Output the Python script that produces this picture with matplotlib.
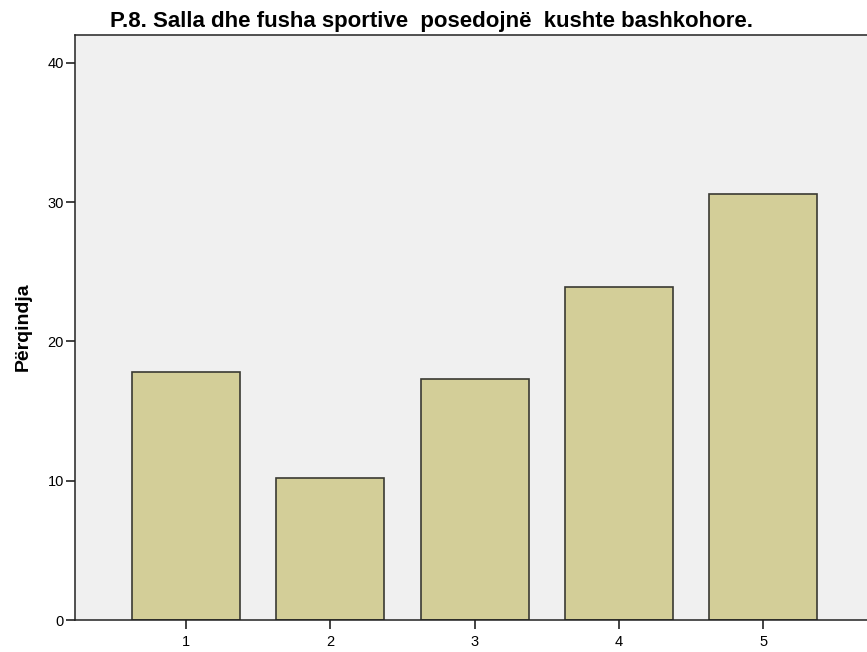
import matplotlib
matplotlib.use("Agg")
import matplotlib.pyplot as plt

plt.rcParams['font.family'] = ['Liberation Sans', 'DejaVu Sans']

# categories and percentages
categories = ['1', '2', '3', '4', '5']
percent = [17.8, 10.2, 17.3, 23.9, 30.6]
yticks = [0, 10, 20, 30, 40]

fig = plt.figure(figsize=(8.67, 6.52), dpi=100)
ax = fig.add_axes([75/867, 32/652, 1 - 75/867, (620 - 35)/652])
ax.set_facecolor('#f0f0f0')

pos = list(range(1, len(categories) + 1))
ax.bar(pos, percent, width=0.75, color='#d3ce98', edgecolor='#3a3a33', linewidth=1.2, zorder=2)

ax.set_xlim(0.23, 5.72)
ax.set_ylim(0, 42)
ax.set_xticks(pos)
ax.set_xticklabels(categories)
ax.set_yticks(yticks)
ax.tick_params(labelsize=10.5, length=6.5, width=1.2, color='#222222', pad=1.5)
ax.tick_params(axis='x', pad=4)

for s in ['left', 'bottom', 'top']:
    ax.spines[s].set_color('#222222')
    ax.spines[s].set_linewidth(1.1)
ax.spines['right'].set_visible(False)

fig.text(23/867, 1 - 327/652, 'Përqindja', rotation=90, ha='center', va='center',
         fontsize=14, fontweight='bold')
fig.text(431/867, 1 - 27/652, 'P.8. Salla dhe fusha sportive  posedojnë  kushte bashkohore.',
         ha='center', va='baseline', fontsize=16, fontweight='bold')

plt.savefig('out.png', dpi=100)
